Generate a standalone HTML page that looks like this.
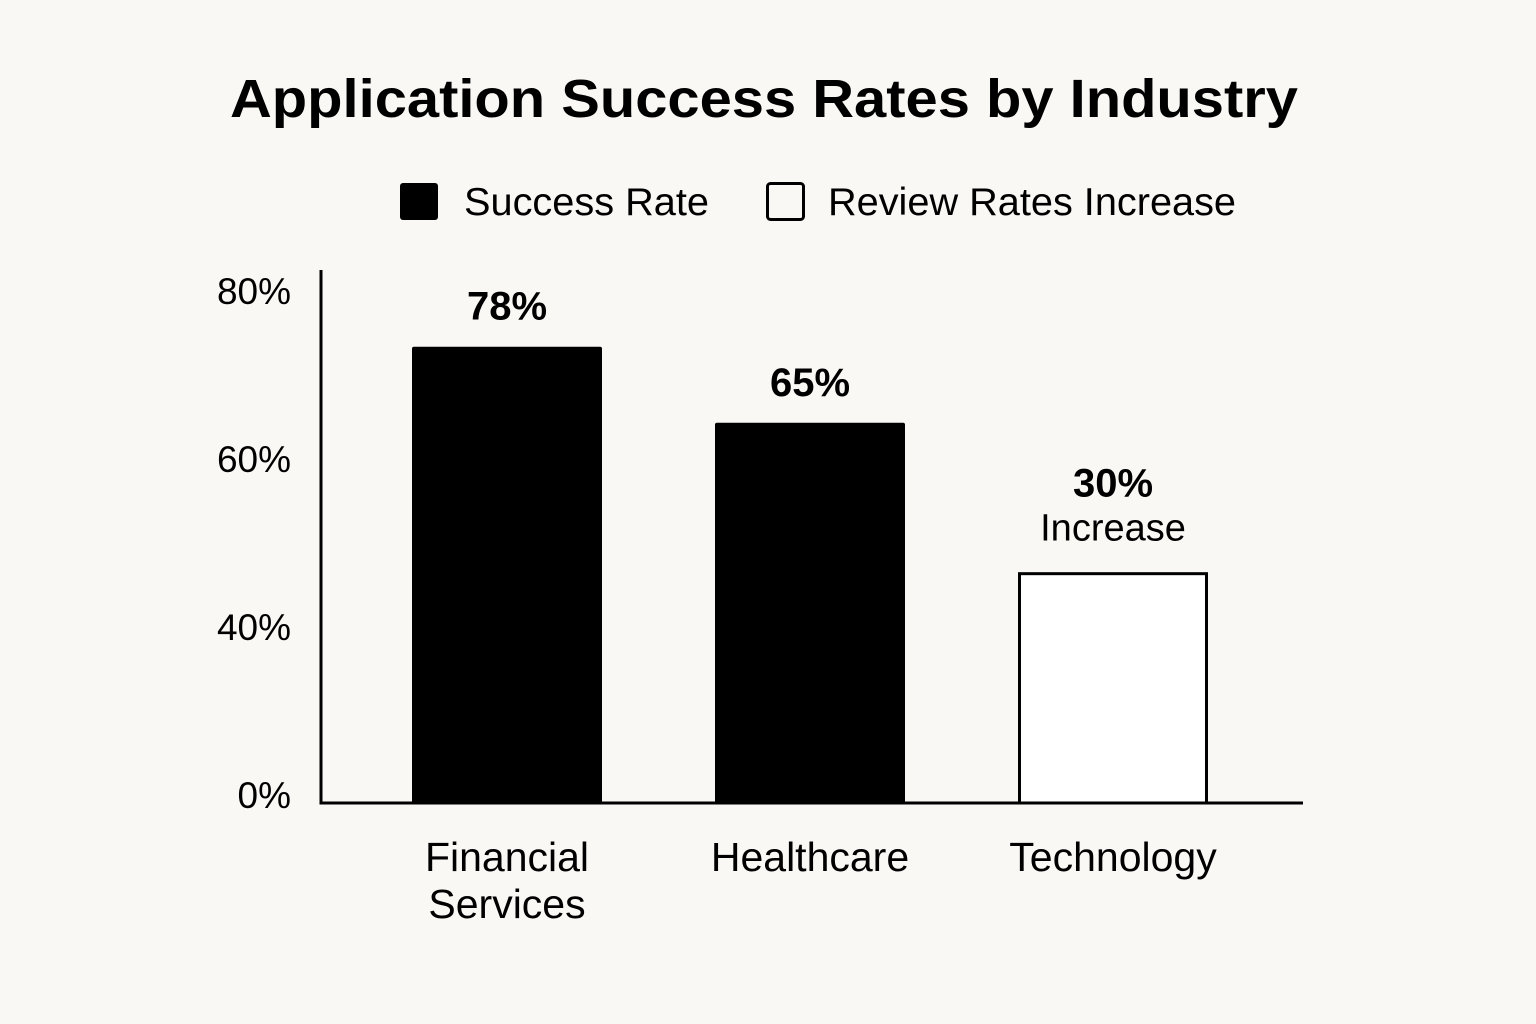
<!DOCTYPE html>
<html><head><meta charset="utf-8"><style>
html,body{margin:0;padding:0;background:#faf8f4;}
svg{display:block;}
text{font-family:"Liberation Sans",sans-serif;fill:#000;}
</style></head><body>
<svg id="chart" width="1536" height="1024" viewBox="0 0 1536 1024">
<rect width="1536" height="1024" fill="#faf8f4"/>
<text x="764" y="117" text-anchor="middle" font-size="54" font-weight="bold" textLength="1068" lengthAdjust="spacingAndGlyphs">Application Success Rates by Industry</text>
<g>
<rect x="400" y="183" width="38" height="37" rx="3" fill="#000"/>
<text x="464" y="215" font-size="39" textLength="245" lengthAdjust="spacingAndGlyphs">Success Rate</text>
<rect x="767.5" y="183.5" width="36" height="36" rx="3" fill="none" stroke="#000" stroke-width="3"/>
<text x="828" y="215" font-size="39" textLength="408" lengthAdjust="spacingAndGlyphs">Review Rates Increase</text>
</g>
<g id="plot"></g>
</svg>
<script>
const categories = [["Financial","Services"],["Healthcare"],["Technology"]];
const valueLabels = ["78%","65%","30%"];
const subLabels = ["","","Increase"];
const barValues = [78, 65, 39.2];
const filled = [true, true, false];
const tickLabels = ["0%","40%","60%","80%"];

const NS="http://www.w3.org/2000/svg";
const plot=document.getElementById('plot');
const baseY=803, pxPer=5.85, x0=321, bandStart=412, bandStep=303, barW=190;
function y(v){return baseY - v*pxPer;}
function xb(i){return bandStart + i*bandStep;}
function tickY(i){return 795 - i*168;}
function mk(tag,attrs){const e=document.createElementNS(NS,tag);for(const k in attrs)e.setAttribute(k,attrs[k]);plot.appendChild(e);return e;}

tickLabels.forEach((t,i)=>{
  const e=mk('text',{x:291,y:tickY(i)+13,'text-anchor':'end','font-size':'37'});
  e.textContent=t;
  
  
});

barValues.forEach((v,i)=>{
  let r;
  if(filled[i]){
    r=mk('rect',{x:xb(i),y:y(v),width:barW,height:baseY-y(v),rx:2,fill:'#000'});
  } else {
    r=mk('rect',{x:xb(i)+1.5,y:y(v),width:barW-3,height:baseY-y(v),fill:'#fff',stroke:'#000','stroke-width':3});
  }
  
  
  const cx=xb(i)+barW/2;
  const hasSub=subLabels[i]!=="";
  const ly=hasSub? y(v)-77 : y(v)-27;
  const t=mk('text',{x:cx,y:ly,'text-anchor':'middle','font-size':'40','font-weight':'bold'});
  t.textContent=valueLabels[i];
  
  
  if(hasSub){
    const s=mk('text',{x:cx,y:y(v)-33,'text-anchor':'middle','font-size':'38'});
    s.textContent=subLabels[i];
    
    
  }
  categories[i].forEach((line,j)=>{
    const c=mk('text',{x:cx,y:871+j*47,'text-anchor':'middle','font-size':'41'});
    c.textContent=line;
    
    
  });
});

const ya=mk('line',{x1:x0,y1:270,x2:x0,y2:baseY+1.5,stroke:'#000','stroke-width':3});


const xa=mk('line',{x1:x0-1.5,y1:baseY,x2:1303,y2:baseY,stroke:'#000','stroke-width':3});


</script>
</body></html>
